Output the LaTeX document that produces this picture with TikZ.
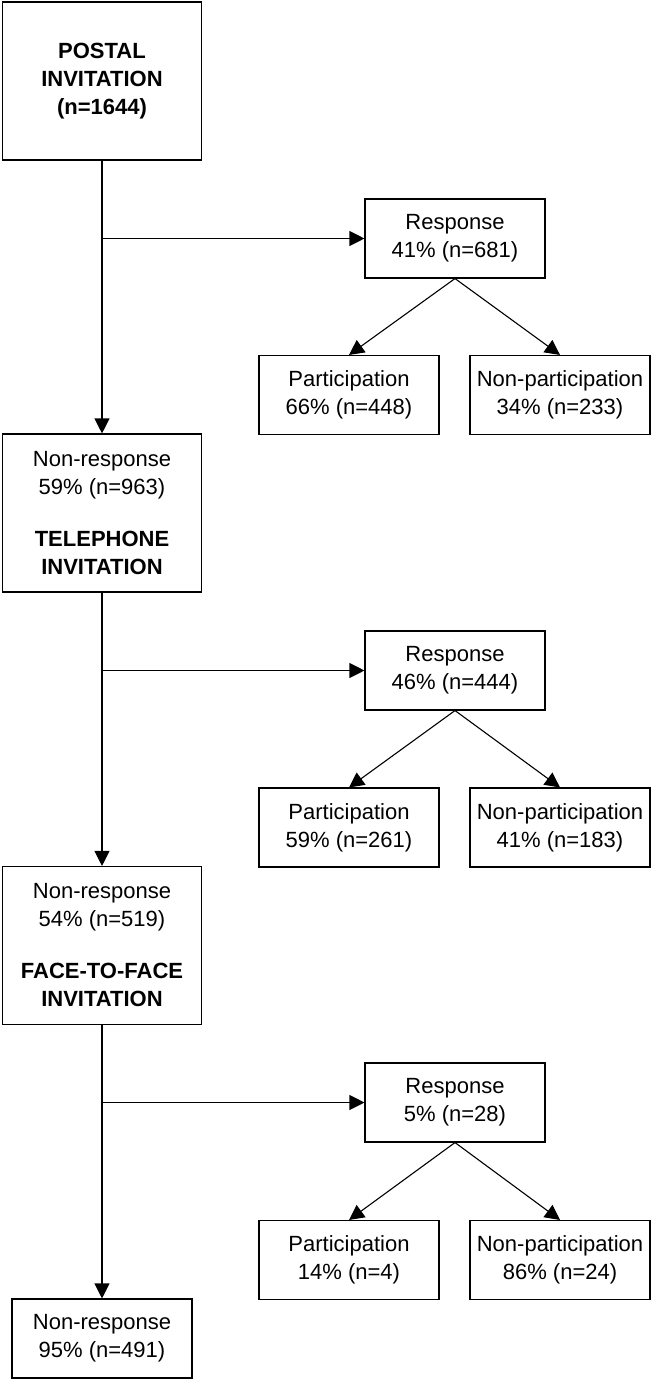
\documentclass[tikz,border=0pt]{standalone}
\usepackage{fontspec}
\setmainfont{Liberation Sans}
\usetikzlibrary{arrows.meta,positioning}

\begin{document}
\begin{tikzpicture}[
  x=1pt,y=-1pt,
  box/.style ={rectangle,draw,line width=1.1pt,align=center,inner sep=0pt,
               minimum width=180pt,minimum height=79pt,font=\fontsize{22}{28}\selectfont},
  sbox/.style={box,minimum width=199pt,minimum height=158pt},
  arrow/.style={-{Triangle[length=15pt,width=15pt]},line width=1.1pt},
]
\useasboundingbox (0,0) rectangle (653,1380);
% first wave
\node[sbox] (postal) at (102,81)  {\textbf{POSTAL}\\\textbf{INVITATION}\\\textbf{(n=1644)}};
\node[box]  (resp1)  at (455,238.5) {Response\\41\% (n=681)};
\node[box]  (part1)  at (349,395) {Participation\\66\% (n=448)};
\node[box]  (npart1) at (560,395) {Non-participation\\34\% (n=233)};
% second wave
\node[sbox] (tel)    at (102,513) {Non-response\\59\% (n=963)\\[24pt]\textbf{TELEPHONE}\\\textbf{INVITATION}};
\node[box]  (resp2)  at (455,670.5) {Response\\46\% (n=444)};
\node[box]  (part2)  at (349,827.5) {Participation\\59\% (n=261)};
\node[box]  (npart2) at (560,827.5) {Non-participation\\41\% (n=183)};
% third wave
\node[sbox] (face)   at (102,945.5) {Non-response\\54\% (n=519)\\[24pt]\textbf{FACE-TO-FACE}\\\textbf{INVITATION}};
\node[box]  (resp3)  at (455,1102.5) {Response\\5\% (n=28)};
\node[box]  (part3)  at (349,1260) {Participation\\14\% (n=4)};
\node[box]  (npart3) at (560,1260) {Non-participation\\86\% (n=24)};
\node[box]  (final)  at (102,1338.5) {Non-response\\95\% (n=491)};
% trunk
\draw[arrow](postal.south)--(tel.north);
\draw[arrow](tel.south)--(face.north);
\draw[arrow](face.south)--(final.north);
% branches
\draw[arrow](postal.south |- resp1.west)--(resp1.west);
\draw[arrow](tel.south |- resp2.west)--(resp2.west);
\draw[arrow](face.south |- resp3.west)--(resp3.west);
\foreach \i in {1,2,3}{
  \draw[arrow](resp\i.south)--(part\i.north);
  \draw[arrow](resp\i.south)--(npart\i.north);
}
\end{tikzpicture}
\end{document}
